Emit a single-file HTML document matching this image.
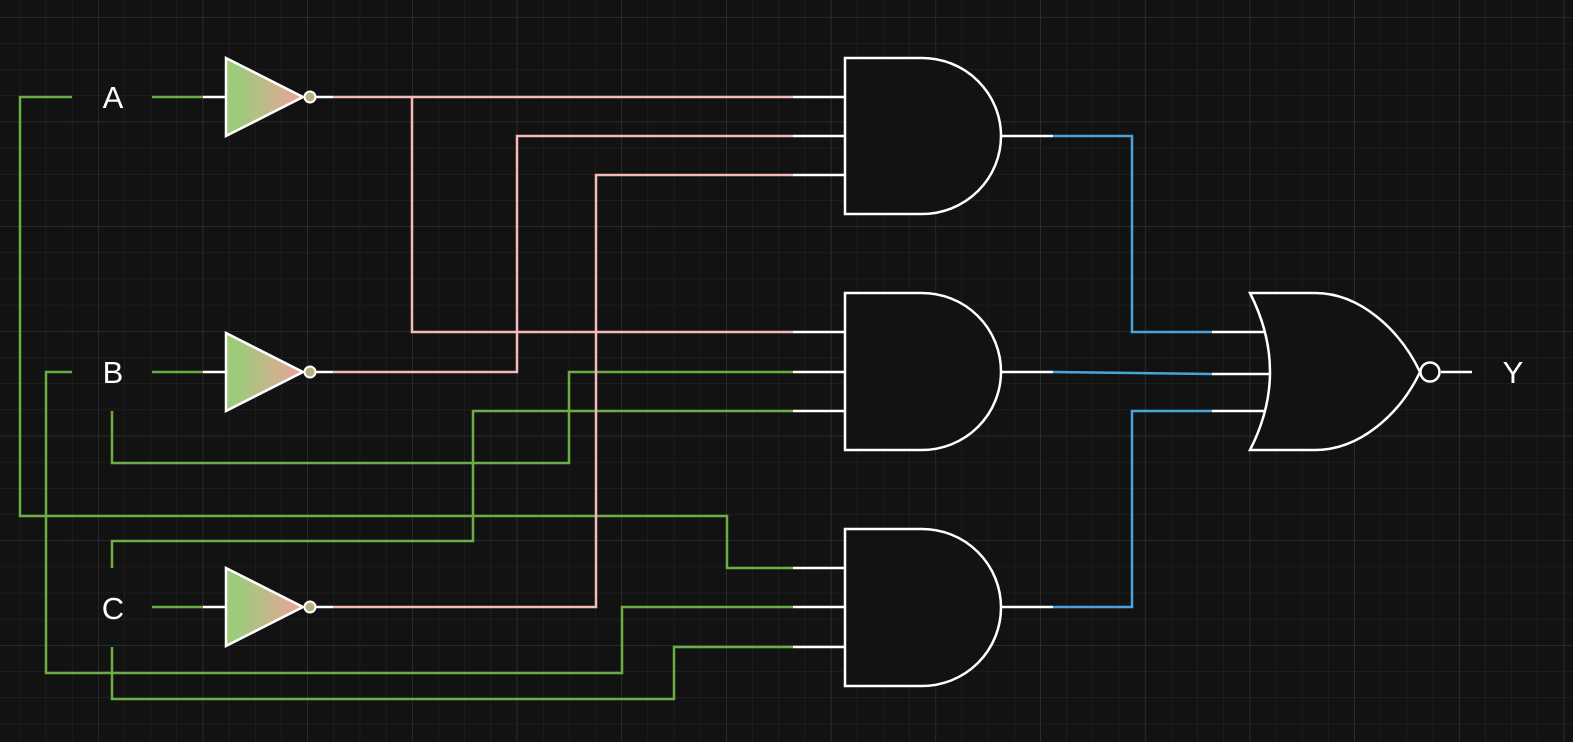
<!DOCTYPE html>
<html><head><style>html,body{margin:0;padding:0;background:#121212;}svg{display:block}</style></head>
<body>
<svg width="1573" height="742" viewBox="0 0 1573 742" xmlns="http://www.w3.org/2000/svg">
<defs>
<pattern id="minor" x="19.5" y="17" width="26.17" height="26.17" patternUnits="userSpaceOnUse">
<path d="M0 0H26.17M0 0V26.17" stroke="#262626" stroke-width="1" fill="none"/>
</pattern>
<pattern id="major" x="98" y="17" width="104.7" height="104.7" patternUnits="userSpaceOnUse">
<path d="M0 0H104.7M0 0V104.7" stroke="#3a3a3a" stroke-width="1" fill="none"/>
</pattern>
<linearGradient id="g" x1="0" x2="1" y1="0" y2="0">
<stop offset="0.15" stop-color="#9dcb7a"/><stop offset="1" stop-color="#eba39c"/>
</linearGradient>
</defs>
<rect width="1573" height="742" fill="#121212"/>
<rect width="1573" height="742" fill="url(#minor)"/>
<rect width="1573" height="742" fill="url(#major)"/>

<g fill="none" stroke-width="2.5">
<g stroke="#6aad45">
<path d="M72 97H20V516H727V568H793"/>
<path d="M152 97H203"/>
<path d="M72 372H46V673H622V607H793"/>
<path d="M152 372H203"/>
<path d="M112 411V463H569V372H793"/>
<path d="M112 568V541H473V411H793"/>
<path d="M112 647V699H674V647H793"/>
<path d="M152 607H203"/>
</g>
<g stroke="#f4b9b9">
<path d="M333 97H793"/>
<path d="M412 97V332H793"/>
<path d="M333 372H517V136H793"/>
<path d="M333 607H596V175H793"/>
</g>
<g stroke="#4aa3dd">
<path d="M1053 136H1132V332H1212"/>
<path d="M1053 372L1212 374"/>
<path d="M1053 607H1132V411H1212"/>
</g>
<g stroke="#fff">
<path d="M203 97H226M315 97H333M203 372H226M315 372H333M203 607H226M315 607H333"/>
<path d="M793 97H845M793 136H845M793 175H845"/>
<path d="M793 332H845M793 372H845M793 411H845"/>
<path d="M793 568H845M793 607H845M793 647H845"/>
<path d="M1001 136H1053M1001 372H1053M1001 607H1053"/>
<path d="M1212 332H1266M1212 374H1272M1212 411H1266"/>
<path d="M1441 372H1472"/>
</g>
</g>

<g stroke="#fff" stroke-width="2.5" fill="url(#g)">
<path d="M226 58L226 136L303 97Z"/>
<path d="M226 333L226 411L303 372Z"/>
<path d="M226 568L226 646L303 607Z"/>
</g>
<g stroke="#fff" stroke-width="2" fill="#b8b07c">
<circle cx="310" cy="97" r="5.5"/>
<circle cx="310" cy="372" r="5.5"/>
<circle cx="310" cy="607" r="5.5"/>
</g>

<g stroke="#fff" stroke-width="2.5" fill="#121212">
<path d="M845 58H922A79 78 0 0 1 922 214H845Z"/>
<path d="M845 293H922A79 78.5 0 0 1 922 450H845Z"/>
<path d="M845 529H922A79 78.5 0 0 1 922 686H845Z"/>
<path d="M1250 293H1315C1360 293 1400 330 1420 372C1400 414 1360 450 1315 450H1250Q1290 372 1250 293Z"/>
<circle cx="1430" cy="372" r="9.5"/>
</g>

<g fill="#fff" font-family="Liberation Sans, sans-serif" font-size="31" text-anchor="middle">
<text x="113" y="108">A</text>
<text x="113" y="383">B</text>
<text x="113" y="619">C</text>
<text x="1513" y="383">Y</text>
</g>
</svg>
</body></html>
